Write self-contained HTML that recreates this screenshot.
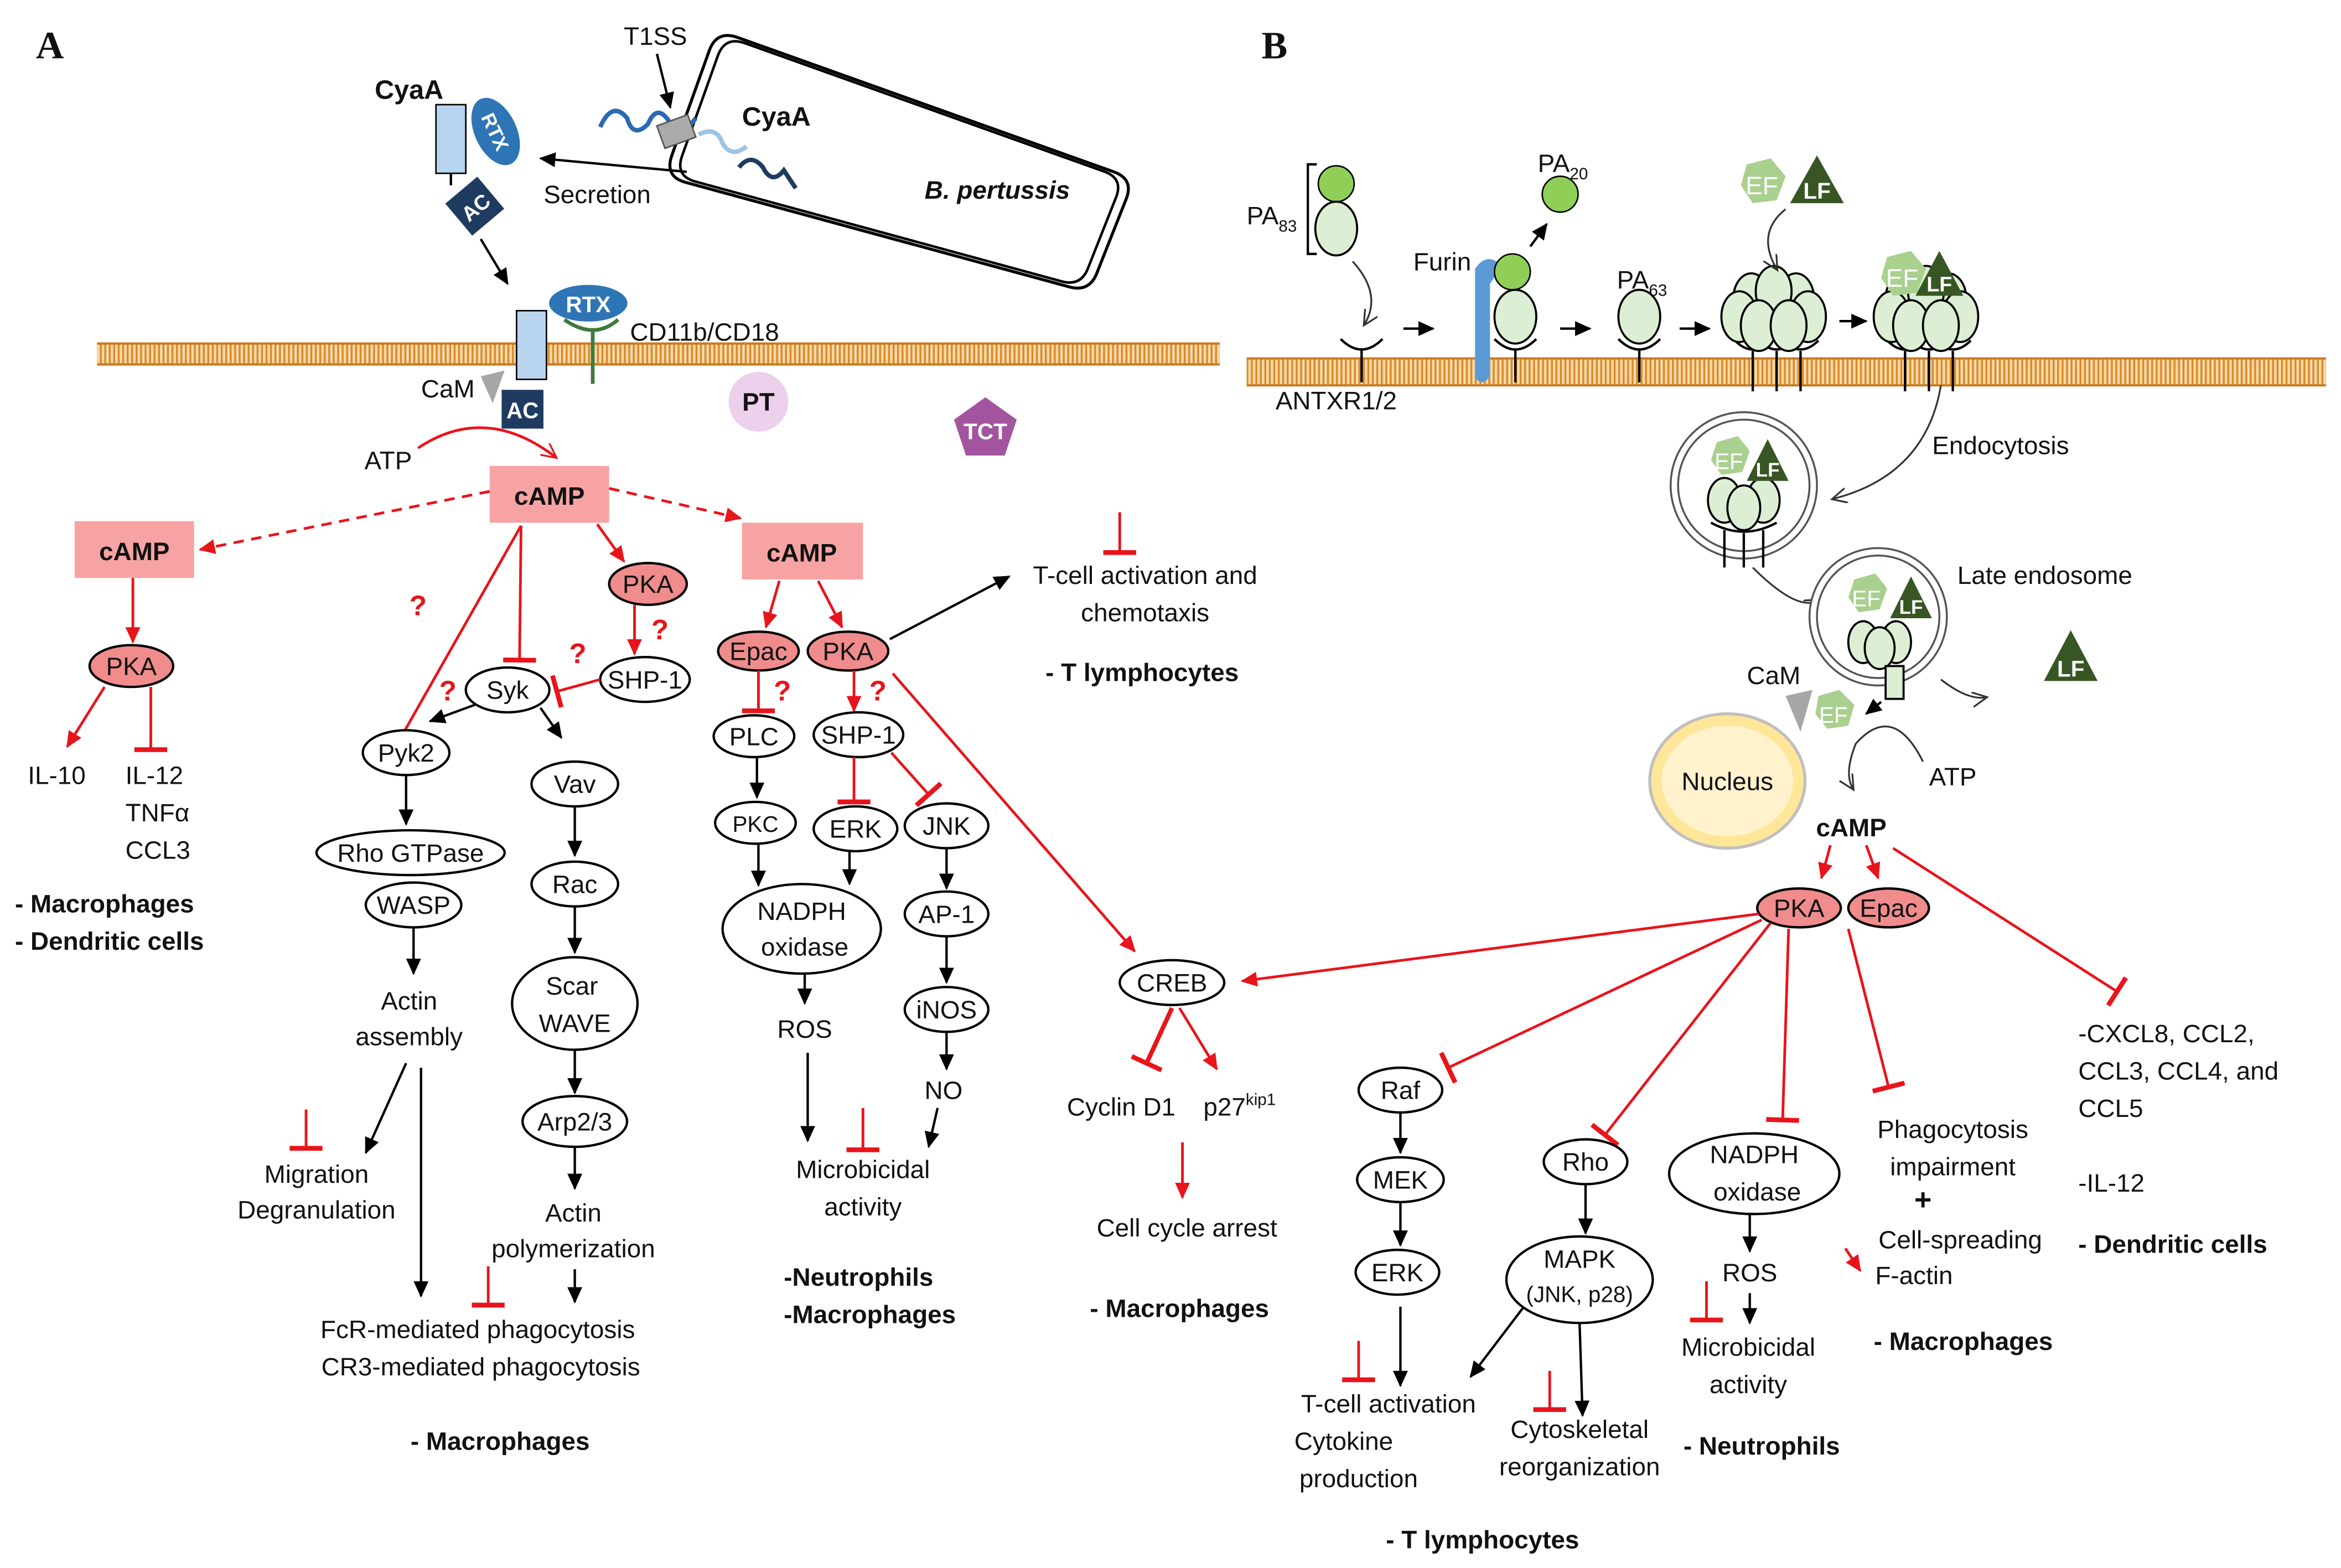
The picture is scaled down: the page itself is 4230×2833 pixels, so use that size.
<!DOCTYPE html>
<html><head><meta charset="utf-8"><style>
html,body{margin:0;padding:0;background:#fff;}
svg{display:block;}
text{font-family:"Liberation Sans",sans-serif;font-size:17px;fill:#111;}
.b{font-weight:bold;}
.c{text-anchor:middle;}
.n{fill:#fff;stroke:#000;stroke-width:1.6;}
.pk{fill:#f08c8c;stroke:#000;stroke-width:1.6;}
.k{stroke:#000;stroke-width:1.6;fill:none;}
.r{stroke:#e8141b;stroke-width:1.8;fill:none;}
.rt{stroke:#e8141b;stroke-width:3;fill:none;}
.q{fill:#e8141b;font-weight:bold;font-size:19px;}
.cb{fill:#f8a3a3;}
.gp{fill:#dcefd4;stroke:#000;stroke-width:1.4;}
</style></head><body>
<svg width="4230" height="2833" viewBox="0 0 1568 1050" xmlns="http://www.w3.org/2000/svg">
<defs>
<marker id="ak" markerUnits="userSpaceOnUse" markerWidth="14" markerHeight="14" refX="10" refY="5" orient="auto"><path d="M0,0 L11,5 L0,10 z" fill="#000"/></marker>
<marker id="ar" markerUnits="userSpaceOnUse" markerWidth="14" markerHeight="14" refX="10" refY="5" orient="auto"><path d="M0,0 L11,5 L0,10 z" fill="#e8141b"/></marker>
<marker id="tr" markerUnits="userSpaceOnUse" markerWidth="6" markerHeight="24" refX="3" refY="12" orient="auto"><path d="M3,1 L3,23" stroke="#e8141b" stroke-width="3.2"/></marker>
<marker id="ao" markerUnits="userSpaceOnUse" markerWidth="14" markerHeight="14" refX="9" refY="5" orient="auto"><path d="M0,0 L10,5 L0,10" fill="none" stroke="#e8141b" stroke-width="1.2"/></marker>
<marker id="aok" markerUnits="userSpaceOnUse" markerWidth="14" markerHeight="14" refX="9" refY="5" orient="auto"><path d="M0,0 L10,5 L0,10" fill="none" stroke="#333" stroke-width="1.2"/></marker>
<pattern id="mem" width="3" height="14" patternUnits="userSpaceOnUse"><rect width="3" height="14" fill="#f6d9a8"/><line x1="1.5" y1="0" x2="1.5" y2="14" stroke="#d98a2a" stroke-width="1.3"/></pattern>
</defs>

<text x="24" y="39" style="font-family:'Liberation Serif',serif;font-size:26px;font-weight:bold">A</text>
<text x="845" y="39" style="font-family:'Liberation Serif',serif;font-size:26px;font-weight:bold">B</text>

<!-- membranes -->
<rect x="65" y="230" width="752" height="14" fill="url(#mem)"/>
<line x1="65" y1="230" x2="817" y2="230" stroke="#c97a20" stroke-width="1.5"/>
<line x1="65" y1="244" x2="817" y2="244" stroke="#c97a20" stroke-width="1.5"/>
<rect x="835" y="240" width="723" height="18" fill="url(#mem)"/>
<line x1="835" y1="240" x2="1558" y2="240" stroke="#c97a20" stroke-width="1.5"/>
<line x1="835" y1="258" x2="1558" y2="258" stroke="#c97a20" stroke-width="1.5"/>

<!-- bacterium -->
<path d="M494,25 L746,115 Q760,120 754,134 L735,182 Q730,196 716,192 L459,122 Q445,118 450,104 L475,34 Q480,20 494,25 Z" fill="#fff" stroke="#000" stroke-width="2"/>
<path d="M494,25 L746,115 Q760,120 754,134 L735,182 Q730,196 716,192 L459,122 Q445,118 450,104 L475,34 Q480,20 494,25 Z" fill="none" stroke="#000" stroke-width="1.8" transform="translate(603,110) scale(0.955) translate(-603,-110)"/>
<text x="668" y="133" class="b c" style="font-style:italic">B. pertussis</text>
<text x="439" y="30" class="c">T1SS</text>
<line x1="440" y1="36" x2="449" y2="72" class="k" marker-end="url(#ak)"/>
<path d="M402,85 q8,-18 18,-6 q4,14 14,4 q6,-14 14,-2 q10,10 18,-2" fill="none" stroke="#2a6ab5" stroke-width="3"/>
<rect x="442" y="80" width="22" height="16" fill="#aaa" stroke="#555" transform="rotate(-20 453 88)"/>
<path d="M468,90 q12,-6 16,6 q6,10 16,2" fill="none" stroke="#9cc4e4" stroke-width="3"/>
<path d="M495,112 q8,-10 16,0 q6,12 14,2 l8,12" fill="none" stroke="#1f3b60" stroke-width="3"/>
<text x="520" y="84" class="b c" style="font-size:18px">CyaA</text>
<line x1="460" y1="115" x2="362" y2="106" class="k" marker-end="url(#ak)"/>
<text x="400" y="136" class="c">Secretion</text>

<!-- CyaA left -->
<text x="274" y="66" class="b c" style="font-size:18px">CyaA</text>
<rect x="292" y="70" width="20" height="46" fill="#b9d4ee" stroke="#000"/>
<line x1="302" y1="116" x2="302" y2="124" class="k"/>
<ellipse cx="332" cy="88" rx="14" ry="24" fill="#2e75b6" transform="rotate(-25 332 88)"/>
<text x="332" y="93" class="b c" style="fill:#fff;font-size:13px" transform="rotate(65 332 88)">RTX</text>
<rect x="304" y="124" width="28" height="28" fill="#1f3b60" transform="rotate(-40 318 138)"/>
<text x="318" y="144" class="b c" style="fill:#fff;font-size:14px" transform="rotate(-40 318 138)">AC</text>
<line x1="322" y1="160" x2="340" y2="190" class="k" marker-end="url(#ak)"/>

<rect x="346" y="208" width="20" height="46" fill="#b9d4ee" stroke="#000"/>
<ellipse cx="394" cy="203" rx="27" ry="13" fill="#2e75b6" stroke="#fff" stroke-width="1.5"/>
<text x="394" y="209" class="b c" style="fill:#fff;font-size:15px">RTX</text>
<path d="M378,214 q20,14 36,0" fill="none" stroke="#3e7a3e" stroke-width="2.5"/>
<line x1="397" y1="220" x2="397" y2="257" stroke="#3e7a3e" stroke-width="2.5"/>
<text x="422" y="228">CD11b/CD18</text>
<path d="M322,252 l16,-4 l-8,22 z" fill="#a6a6a6"/>
<text x="300" y="266" class="c">CaM</text>
<rect x="336" y="261" width="28" height="26" fill="#1f3b60"/>
<text x="350" y="280" class="b c" style="fill:#fff;font-size:15px">AC</text>
<circle cx="508" cy="269" r="20" fill="#ecd0ec"/>
<text x="508" y="275" class="b c">PT</text>
<path d="M660,266 l21,15 l-8,24 h-26 l-8,-24 z" fill="#a2559e"/>
<text x="660" y="294" class="b c" style="fill:#fff;font-size:15px">TCT</text>
<text x="260" y="314" class="c">ATP</text>
<path d="M280,300 q45,-30 92,6" class="r" stroke-width="1.2" marker-end="url(#ao)"/>

<!-- cAMP boxes A -->
<rect x="328" y="312" width="80" height="38" class="cb"/><text x="368" y="338" class="b c">cAMP</text>
<rect x="50" y="349" width="80" height="38" class="cb"/><text x="90" y="375" class="b c">cAMP</text>
<rect x="497" y="350" width="81" height="38" class="cb"/><text x="537" y="376" class="b c">cAMP</text>
<line x1="328" y1="329" x2="134" y2="368" class="r" stroke-dasharray="7,5" marker-end="url(#ar)"/>
<line x1="408" y1="327" x2="496" y2="347" class="r" stroke-dasharray="7,5" marker-end="url(#ar)"/>

<!-- left column -->
<line x1="89" y1="387" x2="89" y2="430" class="r" marker-end="url(#ar)"/>
<ellipse cx="88" cy="446" rx="28" ry="14" class="pk"/><text x="88" y="452" class="c">PKA</text>
<line x1="70" y1="460" x2="45" y2="500" class="r" marker-end="url(#ar)"/>
<line x1="101" y1="460" x2="101" y2="502" class="r" marker-end="url(#tr)"/>
<text x="38" y="525" class="c">IL-10</text>
<text x="84" y="525">IL-12</text>
<text x="84" y="550">TNFα</text>
<text x="84" y="575">CCL3</text>
<text x="10" y="611" class="b">- Macrophages</text>
<text x="10" y="636" class="b">- Dendritic cells</text>

<!-- middle -->
<line x1="349" y1="352" x2="265" y2="500" class="r" stroke-width="2.5" marker-end="url(#tr)"/>
<text x="280" y="412" class="q c">?</text>
<line x1="349" y1="352" x2="348" y2="442" class="r" stroke-width="2.5" marker-end="url(#tr)"/>
<line x1="400" y1="351" x2="418" y2="376" class="r" marker-end="url(#ar)"/>
<ellipse cx="434" cy="391" rx="26" ry="14" class="pk"/><text x="434" y="397" class="c">PKA</text>
<line x1="425" y1="405" x2="425" y2="438" class="r" marker-end="url(#ar)"/>
<text x="442" y="428" class="q c">?</text>
<ellipse cx="432" cy="455" rx="30" ry="15" class="n"/><text x="432" y="461" class="c">SHP-1</text>
<line x1="402" y1="455" x2="373" y2="463" class="r" stroke-width="1.8" marker-end="url(#tr)"/>
<text x="387" y="444" class="q c">?</text>
<ellipse cx="340" cy="462" rx="28" ry="15" class="n"/><text x="340" y="468" class="c">Syk</text>
<text x="300" y="469" class="q c">?</text>
<line x1="318" y1="472" x2="288" y2="483" class="k" marker-end="url(#ak)"/>
<line x1="362" y1="474" x2="376" y2="494" class="k" marker-end="url(#ak)"/>
<ellipse cx="272" cy="504" rx="29" ry="15" class="n"/><text x="272" y="510" class="c">Pyk2</text>
<line x1="272" y1="519" x2="272" y2="552" class="k" marker-end="url(#ak)"/>
<ellipse cx="275" cy="571" rx="63" ry="15" class="n"/><text x="275" y="577" class="c">Rho GTPase</text>
<ellipse cx="277" cy="606" rx="32" ry="15" class="n"/><text x="277" y="612" class="c">WASP</text>
<line x1="277" y1="621" x2="277" y2="652" class="k" marker-end="url(#ak)"/>
<text x="274" y="676" class="c">Actin</text><text x="274" y="700" class="c">assembly</text>
<line x1="272" y1="712" x2="245" y2="772" class="k" marker-end="url(#ak)"/>
<line x1="282" y1="715" x2="282" y2="868" class="k" marker-end="url(#ak)"/>
<line x1="205" y1="743" x2="205" y2="769" class="r" marker-end="url(#tr)"/>
<text x="212" y="792" class="c">Migration</text><text x="212" y="816" class="c">Degranulation</text>
<ellipse cx="385" cy="525" rx="29" ry="15" class="n"/><text x="385" y="531" class="c">Vav</text>
<line x1="385" y1="540" x2="385" y2="573" class="k" marker-end="url(#ak)"/>
<ellipse cx="385" cy="592" rx="29" ry="15" class="n"/><text x="385" y="598" class="c">Rac</text>
<line x1="385" y1="607" x2="385" y2="638" class="k" marker-end="url(#ak)"/>
<ellipse cx="385" cy="672" rx="42" ry="31" class="n"/><text x="383" y="666" class="c">Scar</text><text x="385" y="691" class="c">WAVE</text>
<line x1="385" y1="703" x2="385" y2="732" class="k" marker-end="url(#ak)"/>
<ellipse cx="385" cy="751" rx="35" ry="17" class="n"/><text x="385" y="757" class="c">Arp2/3</text>
<line x1="385" y1="768" x2="385" y2="796" class="k" marker-end="url(#ak)"/>
<text x="384" y="818" class="c">Actin</text><text x="384" y="842" class="c">polymerization</text>
<line x1="385" y1="850" x2="385" y2="872" class="k" marker-end="url(#ak)"/>
<line x1="327" y1="848" x2="327" y2="874" class="r" marker-end="url(#tr)"/>
<text x="320" y="896" class="c">FcR-mediated phagocytosis</text>
<text x="322" y="921" class="c">CR3-mediated phagocytosis</text>
<text x="335" y="971" class="b c">- Macrophages</text>

<!-- right of A -->
<line x1="522" y1="389" x2="513" y2="420" class="r" marker-end="url(#ar)"/>
<line x1="548" y1="389" x2="564" y2="420" class="r" marker-end="url(#ar)"/>
<line x1="596" y1="428" x2="676" y2="386" class="k" marker-end="url(#ak)"/>
<line x1="750" y1="343" x2="750" y2="370" class="r" marker-end="url(#tr)"/>
<text x="767" y="391" class="c">T-cell activation and</text>
<text x="767" y="416" class="c">chemotaxis</text>
<text x="765" y="456" class="b c">- T lymphocytes</text>
<ellipse cx="508" cy="436" rx="27" ry="13" class="pk"/><text x="508" y="442" class="c">Epac</text>
<ellipse cx="568" cy="436" rx="27" ry="13" class="pk"/><text x="568" y="442" class="c">PKA</text>
<line x1="508" y1="449" x2="508" y2="476" class="r" marker-end="url(#tr)"/>
<text x="524" y="469" class="q c">?</text>
<ellipse cx="505" cy="493" rx="27" ry="14" class="n"/><text x="505" y="499" class="c">PLC</text>
<line x1="507" y1="507" x2="507" y2="534" class="k" marker-end="url(#ak)"/>
<ellipse cx="506" cy="551" rx="27" ry="14" class="n"/><text x="506" y="557" class="c" style="font-size:15px">PKC</text>
<line x1="508" y1="565" x2="508" y2="593" class="k" marker-end="url(#ak)"/>
<ellipse cx="537" cy="622" rx="53" ry="30" class="n"/><text x="537" y="616" class="c">NADPH</text><text x="539" y="640" class="c">oxidase</text>
<line x1="539" y1="652" x2="539" y2="672" class="k" marker-end="url(#ak)"/>
<text x="539" y="695" class="c">ROS</text>
<line x1="541" y1="705" x2="541" y2="764" class="k" marker-end="url(#ak)"/>
<line x1="578" y1="742" x2="578" y2="770" class="r" marker-end="url(#tr)"/>
<text x="578" y="789" class="c">Microbicidal</text><text x="578" y="814" class="c">activity</text>
<line x1="572" y1="449" x2="572" y2="476" class="r" marker-end="url(#ar)"/>
<text x="588" y="469" class="q c">?</text>
<ellipse cx="575" cy="492" rx="30" ry="15" class="n"/><text x="575" y="498" class="c">SHP-1</text>
<line x1="572" y1="507" x2="572" y2="537" class="r" marker-end="url(#tr)"/>
<line x1="597" y1="504" x2="622" y2="532" class="r" marker-end="url(#tr)"/>
<ellipse cx="573" cy="555" rx="28" ry="15" class="n"/><text x="573" y="561" class="c">ERK</text>
<line x1="569" y1="570" x2="569" y2="592" class="k" marker-end="url(#ak)"/>
<ellipse cx="634" cy="553" rx="28" ry="15" class="n"/><text x="634" y="559" class="c">JNK</text>
<line x1="634" y1="568" x2="634" y2="595" class="k" marker-end="url(#ak)"/>
<ellipse cx="634" cy="612" rx="28" ry="15" class="n"/><text x="634" y="618" class="c">AP-1</text>
<line x1="634" y1="627" x2="634" y2="658" class="k" marker-end="url(#ak)"/>
<ellipse cx="634" cy="676" rx="28" ry="15" class="n"/><text x="634" y="682" class="c">iNOS</text>
<line x1="634" y1="691" x2="634" y2="716" class="k" marker-end="url(#ak)"/>
<text x="632" y="736" class="c">NO</text>
<line x1="628" y1="742" x2="622" y2="768" class="k" marker-end="url(#ak)"/>
<text x="525" y="861" class="b">-Neutrophils</text>
<text x="525" y="886" class="b">-Macrophages</text>
<line x1="598" y1="451" x2="760" y2="637" class="r" marker-end="url(#ar)"/>
<ellipse cx="785" cy="658" rx="35" ry="15" class="n"/><text x="785" y="664" class="c">CREB</text>
<line x1="785" y1="675" x2="768" y2="712" class="rt" marker-end="url(#tr)"/>
<line x1="790" y1="675" x2="815" y2="716" class="r" marker-end="url(#ar)"/>
<text x="751" y="747" class="c">Cyclin D1</text>
<text x="806" y="747">p27<tspan dy="-7" style="font-size:11px">kip1</tspan></text>
<line x1="792" y1="765" x2="792" y2="802" class="r" marker-end="url(#ar)"/>
<text x="795" y="828" class="c">Cell cycle arrest</text>
<text x="790" y="882" class="b c">- Macrophages</text>

<!-- Panel B top -->
<text x="835" y="150">PA<tspan dy="5" style="font-size:11px">83</tspan></text>
<path d="M882,110 h-6 v60 h6" class="k" stroke-width="1.2"/>
<circle cx="895" cy="123" r="12" fill="#8fcf57" stroke="#000"/>
<ellipse cx="895" cy="153" rx="14" ry="18" class="gp"/>
<path d="M906,175 q20,22 8,42" fill="none" stroke="#333" stroke-width="1.2" marker-end="url(#aok)"/>
<path d="M898,227 q14,14 28,0" class="k" stroke-width="2.5"/>
<line x1="912" y1="234" x2="912" y2="256" class="k" stroke-width="2.5"/>
<text x="895" y="274" class="c">ANTXR1/2</text>
<line x1="940" y1="220" x2="960" y2="220" class="k" marker-end="url(#ak)"/>
<path d="M988,180 q8,-12 18,-2 l-8,12 v62 q-6,8 -10,0 z" fill="#5b9bd5"/>
<text x="966" y="181" class="c">Furin</text>
<circle cx="1013" cy="182" r="12" fill="#8fcf57" stroke="#000"/>
<ellipse cx="1015" cy="212" rx="14" ry="18" class="gp"/>
<path d="M1001,227 q14,14 28,0" class="k" stroke-width="2.5"/>
<line x1="1015" y1="234" x2="1015" y2="256" class="k" stroke-width="2.5"/>
<line x1="1025" y1="165" x2="1036" y2="150" class="k" marker-end="url(#ak)"/>
<circle cx="1045" cy="130" r="12" fill="#8fcf57" stroke="#000"/>
<text x="1030" y="115">PA<tspan dy="5" style="font-size:11px">20</tspan></text>
<line x1="1045" y1="220" x2="1065" y2="220" class="k" marker-end="url(#ak)"/>
<text x="1083" y="193">PA<tspan dy="5" style="font-size:11px">63</tspan></text>
<ellipse cx="1098" cy="212" rx="14" ry="18" class="gp"/>
<path d="M1084,227 q14,14 28,0" class="k" stroke-width="2.5"/>
<line x1="1098" y1="234" x2="1098" y2="256" class="k" stroke-width="2.5"/>
<line x1="1125" y1="220" x2="1145" y2="220" class="k" marker-end="url(#ak)"/>
<g id="hep">
<path d="M1162,228 q12,12 24,0 M1178,228 q12,12 24,0 M1194,228 q12,12 24,0" class="k" stroke-width="2.5"/>
<line x1="1174" y1="235" x2="1174" y2="262" class="k" stroke-width="2.5"/>
<line x1="1190" y1="235" x2="1190" y2="262" class="k" stroke-width="2.5"/>
<line x1="1206" y1="235" x2="1206" y2="262" class="k" stroke-width="2.5"/>
<ellipse cx="1173" cy="200" rx="12" ry="17" class="gp"/>
<ellipse cx="1203" cy="200" rx="12" ry="17" class="gp"/>
<ellipse cx="1188" cy="195" rx="12" ry="17" class="gp"/>
<ellipse cx="1165" cy="212" rx="12" ry="17" class="gp"/>
<ellipse cx="1211" cy="212" rx="12" ry="17" class="gp"/>
<ellipse cx="1178" cy="218" rx="12" ry="17" class="gp"/>
<ellipse cx="1198" cy="218" rx="12" ry="17" class="gp"/>
</g>
<line x1="1232" y1="215" x2="1250" y2="215" class="k" marker-end="url(#ak)"/>
<use href="#hep" transform="translate(102,0)"/>
<path d="M1170,110 l16,-4 l10,12 l-6,16 l-16,2 l-8,-12 z" fill="#a9d08e"/>
<text x="1180" y="130" class="c" style="fill:#fff">EF</text>
<path d="M1217,104 l18,32 h-36 z" fill="#375623"/>
<text x="1217" y="133" class="b c" style="fill:#fff;font-size:15px">LF</text>
<path d="M1196,140 q-20,16 -6,40" fill="none" stroke="#333" stroke-width="1.2" marker-end="url(#aok)"/>
<path d="M1264,172 l16,-4 l10,12 l-6,16 l-16,2 l-8,-12 z" fill="#a9d08e"/>
<text x="1274" y="192" class="c" style="fill:#fff">EF</text>
<path d="M1299,168 l16,30 h-32 z" fill="#375623"/>
<text x="1299" y="195" class="b c" style="fill:#fff;font-size:14px">LF</text>
<path d="M1300,258 q-10,60 -72,76" fill="none" stroke="#333" stroke-width="1.2" marker-end="url(#aok)"/>
<text x="1340" y="304" class="c">Endocytosis</text>

<!-- endosomes -->
<circle cx="1168" cy="325" r="49" fill="#fff" stroke="#555" stroke-width="1.3"/>
<circle cx="1168" cy="325" r="44" fill="#fff" stroke="#555" stroke-width="1.3"/>
<ellipse cx="1155" cy="335" rx="11" ry="15" class="gp"/><ellipse cx="1181" cy="335" rx="11" ry="15" class="gp"/><ellipse cx="1168" cy="340" rx="11" ry="15" class="gp"/>
<path d="M1146,350 q22,12 44,0" class="k" stroke-width="2"/>
<line x1="1155" y1="355" x2="1155" y2="380" class="k" stroke-width="2"/><line x1="1168" y1="357" x2="1168" y2="380" class="k" stroke-width="2"/><line x1="1181" y1="355" x2="1181" y2="380" class="k" stroke-width="2"/>
<path d="M1150,296 l14,-4 l8,10 l-5,14 l-14,2 l-7,-10 z" fill="#a9d08e"/><text x="1158" y="314" class="c" style="fill:#fff;font-size:15px">EF</text>
<path d="M1184,294 l14,28 h-28 z" fill="#375623"/><text x="1184" y="319" class="b c" style="fill:#fff;font-size:13px">LF</text>
<path d="M1174,380 q30,30 44,22" fill="none" stroke="#333" stroke-width="1.2" marker-end="url(#aok)"/>
<circle cx="1258" cy="413" r="46" fill="#fff" stroke="#555" stroke-width="1.3"/>
<circle cx="1258" cy="413" r="41" fill="#fff" stroke="#555" stroke-width="1.3"/>
<ellipse cx="1248" cy="430" rx="10" ry="14" class="gp"/><ellipse cx="1270" cy="430" rx="10" ry="14" class="gp"/><ellipse cx="1259" cy="434" rx="10" ry="14" class="gp"/>
<rect x="1263" y="446" width="12" height="22" class="gp"/>
<path d="M1242,388 l14,-4 l8,10 l-5,14 l-14,2 l-7,-10 z" fill="#a9d08e"/><text x="1250" y="406" class="c" style="fill:#fff;font-size:15px">EF</text>
<path d="M1280,386 l14,28 h-28 z" fill="#375623"/><text x="1280" y="411" class="b c" style="fill:#fff;font-size:13px">LF</text>
<text x="1311" y="391">Late endosome</text>
<path d="M1387,422 l18,34 h-36 z" fill="#375623"/><text x="1387" y="453" class="b c" style="fill:#fff;font-size:15px">LF</text>
<path d="M1300,455 q18,14 30,12" fill="none" stroke="#333" stroke-width="1.2" marker-end="url(#aok)"/>
<line x1="1260" y1="470" x2="1250" y2="478" class="k" marker-end="url(#ak)"/>
<text x="1188" y="458" class="c">CaM</text>
<path d="M1196,466 l18,-4 l-8,28 z" fill="#a6a6a6"/>
<path d="M1218,466 l14,-4 l10,10 l-4,14 l-14,2 l-8,-10 z" fill="#a9d08e"/><text x="1228" y="484" class="c" style="fill:#fff;font-size:15px">EF</text>
<ellipse cx="1157" cy="523" rx="52" ry="45" fill="#ffe699" stroke="#bfbfbf" stroke-width="2"/>
<ellipse cx="1157" cy="523" rx="44" ry="37" fill="#fff2cc"/>
<text x="1157" y="529" class="c">Nucleus</text>
<text x="1308" y="526" class="c">ATP</text>
<path d="M1288,510 q-20,-40 -45,-12 q-8,20 -2,30" fill="none" stroke="#333" stroke-width="1.2" marker-end="url(#aok)"/>
<text x="1240" y="560" class="b c">cAMP</text>
<line x1="1226" y1="566" x2="1220" y2="588" class="r" stroke-width="2.2" marker-end="url(#ar)"/>
<line x1="1250" y1="566" x2="1258" y2="588" class="r" stroke-width="2.2" marker-end="url(#ar)"/>
<line x1="1268" y1="568" x2="1418" y2="664" class="r" stroke-width="2.5" marker-end="url(#tr)"/>
<ellipse cx="1205" cy="608" rx="28" ry="13" class="pk"/><text x="1205" y="614" class="c">PKA</text>
<ellipse cx="1265" cy="608" rx="27" ry="13" class="pk"/><text x="1265" y="614" class="c">Epac</text>
<text x="1392" y="698">-CXCL8, CCL2,</text>
<text x="1392" y="723">CCL3, CCL4, and</text>
<text x="1392" y="748">CCL5</text>
<text x="1392" y="798">-IL-12</text>
<text x="1392" y="839" class="b">- Dendritic cells</text>

<line x1="1178" y1="612" x2="832" y2="657" class="r" marker-end="url(#ar)"/>
<line x1="1180" y1="616" x2="970" y2="715" class="r" marker-end="url(#tr)"/>
<ellipse cx="938" cy="730" rx="28" ry="15" class="n"/><text x="938" y="736" class="c">Raf</text>
<line x1="938" y1="745" x2="938" y2="772" class="k" marker-end="url(#ak)"/>
<ellipse cx="938" cy="790" rx="29" ry="15" class="n"/><text x="938" y="796" class="c">MEK</text>
<line x1="938" y1="805" x2="938" y2="834" class="k" marker-end="url(#ak)"/>
<ellipse cx="936" cy="852" rx="28" ry="15" class="n"/><text x="936" y="858" class="c">ERK</text>
<line x1="938" y1="875" x2="938" y2="928" class="k" stroke-width="2" marker-end="url(#ak)"/>
<line x1="910" y1="898" x2="910" y2="924" class="r" marker-end="url(#tr)"/>
<text x="930" y="946" class="c">T-cell activation</text>
<text x="900" y="971" class="c">Cytokine</text>
<text x="910" y="996" class="c">production</text>
<line x1="1186" y1="618" x2="1075" y2="760" class="r" marker-end="url(#tr)"/>
<ellipse cx="1062" cy="778" rx="28" ry="15" class="n"/><text x="1062" y="784" class="c">Rho</text>
<line x1="1062" y1="793" x2="1062" y2="826" class="k" marker-end="url(#ak)"/>
<ellipse cx="1058" cy="857" rx="49" ry="29" class="n"/><text x="1058" y="849" class="c">MAPK</text><text x="1058" y="872" class="c" style="font-size:15px">(JNK, p28)</text>
<line x1="1020" y1="876" x2="985" y2="922" class="k" stroke-width="2" marker-end="url(#ak)"/>
<line x1="1058" y1="886" x2="1060" y2="948" class="k" stroke-width="2" marker-end="url(#ak)"/>
<line x1="1038" y1="918" x2="1038" y2="944" class="r" marker-end="url(#tr)"/>
<text x="1058" y="963" class="c">Cytoskeletal</text>
<text x="1058" y="988" class="c">reorganization</text>
<line x1="1198" y1="622" x2="1194" y2="750" class="r" stroke-width="2.2" marker-end="url(#tr)"/>
<ellipse cx="1175" cy="786" rx="57" ry="27" class="n"/><text x="1175" y="779" class="c">NADPH</text><text x="1177" y="804" class="c">oxidase</text>
<line x1="1172" y1="813" x2="1172" y2="838" class="k" marker-end="url(#ak)"/>
<text x="1172" y="858" class="c">ROS</text>
<line x1="1172" y1="866" x2="1172" y2="886" class="k" marker-end="url(#ak)"/>
<line x1="1143" y1="858" x2="1143" y2="884" class="r" marker-end="url(#tr)"/>
<text x="1171" y="908" class="c">Microbicidal</text>
<text x="1171" y="933" class="c">activity</text>
<text x="1180" y="974" class="b c">- Neutrophils</text>
<line x1="1238" y1="622" x2="1265" y2="728" class="r" stroke-width="2.2" marker-end="url(#tr)"/>
<text x="1308" y="762" class="c">Phagocytosis</text>
<text x="1308" y="787" class="c">impairment</text>
<text x="1288" y="810" class="b c" style="font-size:20px">+</text>
<text x="1313" y="836" class="c">Cell-spreading</text>
<text x="1282" y="860" class="c">F-actin</text>
<line x1="1236" y1="836" x2="1246" y2="851" class="r" marker-end="url(#ar)"/>
<text x="1315" y="904" class="b c">- Macrophages</text>
<text x="993" y="1037" class="b c">- T lymphocytes</text>
</svg>
</body></html>
